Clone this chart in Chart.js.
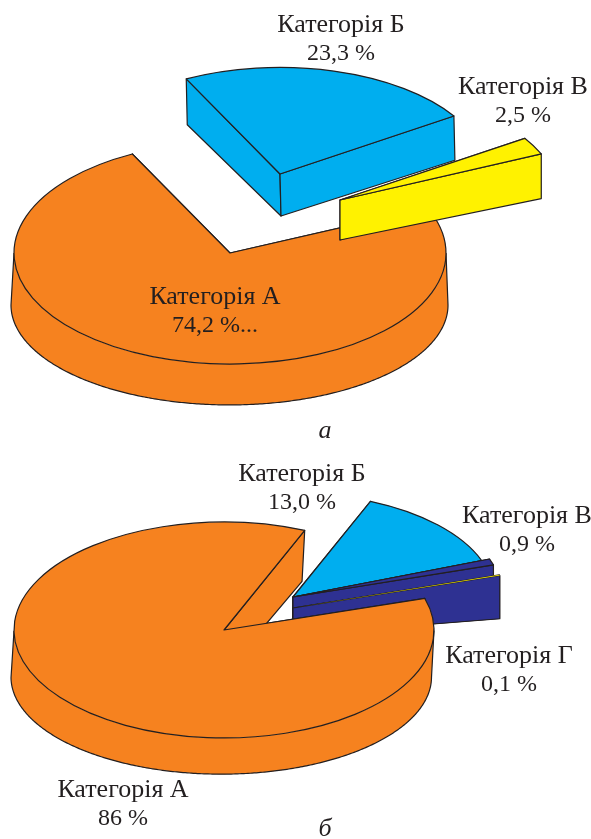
<!DOCTYPE html>
<html lang="uk">
<head>
<meta charset="utf-8">
<title>Категорії</title>
<script src="https://cdn.jsdelivr.net/npm/chart.js@4/dist/chart.umd.min.js"></script>
<style>
  html, body { margin: 0; padding: 0; background: #fff; }
  #page { position: relative; width: 591px; height: 839px; overflow: hidden; }
  canvas { position: absolute; left: 0; }
  .lbl {
    position: absolute; transform: translateX(-50%); text-align: center; white-space: pre;
    font: 24px/28px "Liberation Serif", serif; color: #231f20;
  }
  .lbl .name { font-size: 26px; }
  .cap { font-style: italic; font-size: 26px; }
</style>
</head>
<body>
<div id="page">
  <canvas id="pieA" width="591" height="420" style="top:0"></canvas>
  <canvas id="pieB" width="591" height="419" style="top:420px"></canvas>
</div>
<script>
// верхня діаграма
const categoriesA = ['Категорія А', 'Категорія Б', 'Категорія В'];
const valuesA = [74.2, 23.3, 2.5];
const valueTextA = ['74,2 %...', '23,3 %', '2,5 %'];

// нижня діаграма
const categoriesB = ['Категорія А', 'Категорія Б', 'Категорія В', 'Категорія Г'];
const valuesB = [86, 13.0, 0.9, 0.1];
const valueTextB = ['86 %', '13,0 %', '0,9 %', '0,1 %'];

const ORANGE = '#f6821f', BLUE = '#00aeef', YELLOW = '#fff200', NAVY = '#2e3192', INK = '#231f20';
const SQUASH = 0.514;

// Fake 3D: the arcs come from the pie controller, this plugin flattens them and adds the walls
const pie3d = {
  id: 'pie3d',
  beforeDatasetDraw(chart) {
    const cfg = chart.options.plugins.pie3d;
    const ctx = chart.ctx;
    const arcs = chart.getDatasetMeta(0).data;
    ctx.lineWidth = 1.2;
    ctx.strokeStyle = INK;
    ctx.lineJoin = 'round';
    cfg.order.forEach(i => drawSlice(ctx, arcs[i], cfg.slices[i], cfg.walls[i]));
    return false; // default flat drawing is replaced
  }
};

function drawSlice(ctx, arc, s, wall) {
  const cx = arc.x + s.shift[0], cy = arc.y + s.shift[1];
  const r = arc.outerRadius * s.scale;
  const a0 = arc.startAngle, a1 = arc.endAngle;

  const top = a => [cx + r * Math.cos(a), cy + r * Math.sin(a) * SQUASH];
  const bottom = p => {
    const dy = p[1] - cy;
    const drop = wall.drop - (dy > 0 ? wall.front * dy : wall.back * dy);
    return [p[0] + wall.dx + wall.spread * (p[0] - cx) / r, p[1] + drop];
  };

  // rim wall, only the part that faces the viewer
  const rim = [];
  for (let a = a0; a < a1; a += 0.01) {
    if (Math.sin(a) >= 0) rim.push(top(a));
  }
  ctx.fillStyle = wall.color;
  if (rim.length > 1) {
    const low = rim.map(bottom);
    ctx.beginPath();
    rim.forEach((p, k) => k ? ctx.lineTo(p[0], p[1]) : ctx.moveTo(p[0], p[1]));
    low.slice().reverse().forEach(p => ctx.lineTo(p[0], p[1]));
    ctx.closePath();
    ctx.fill();
    ctx.beginPath();
    ctx.moveTo(rim[0][0], rim[0][1]);
    low.forEach(p => ctx.lineTo(p[0], p[1]));
    ctx.lineTo(rim[rim.length - 1][0], rim[rim.length - 1][1]);
    ctx.stroke();
  }

  // radial walls
  [a0, a1].forEach(a => {
    const p = top(a), q = bottom(p), c = [cx, cy], d = bottom(c);
    ctx.beginPath();
    ctx.moveTo(c[0], c[1]);
    ctx.lineTo(p[0], p[1]);
    ctx.lineTo(q[0], q[1]);
    ctx.lineTo(d[0], d[1]);
    ctx.closePath();
    ctx.fill();
    ctx.stroke();
  });

  // top face, scaled so the stroke below stays even
  ctx.save();
  ctx.translate(cx, cy);
  ctx.scale(s.scale, s.scale * SQUASH);
  ctx.translate(-arc.x, -arc.y);
  arc.draw(ctx);
  ctx.beginPath();
  ctx.moveTo(arc.x, arc.y);
  ctx.arc(arc.x, arc.y, arc.outerRadius, a0, a1);
  ctx.closePath();
  ctx.restore();
  // a very thin wedge would vanish under its own outline
  if (s.outline !== false) ctx.stroke();
}

function makePie(id, values, labels, colors, radius, rotation, padding, plug) {
  return new Chart(document.getElementById(id), {
    type: 'pie',
    data: {
      labels: labels,
      datasets: [{ data: values, backgroundColor: colors, borderWidth: 0, radius: radius }]
    },
    options: {
      responsive: false,
      animation: false,
      rotation: rotation,
      layout: { padding: padding },
      plugins: { legend: { display: false }, tooltip: { enabled: false }, pie3d: plug }
    },
    plugins: [pie3d]
  });
}

makePie('pieA', valuesA, categoriesA, [ORANGE, BLUE, YELLOW], 216, 66,
  { left: 0, right: 131, top: 86, bottom: 0 }, {
    order: [0, 1, 2],
    slices: [
      { shift: [0, 0], scale: 1 },
      { shift: [50, -79], scale: 0.96 },
      { shift: [110, -53], scale: 1.02 }
    ],
    walls: [
      { color: ORANGE, dx: -0.5, spread: 2.5, drop: 52, front: 0.1, back: 0 },
      { color: BLUE, dx: 1, spread: 0, drop: 42, front: 0, back: 0.04 },
      { color: YELLOW, dx: 0, spread: 0, drop: 40, front: 0, back: 0.1 }
    ]
  });

makePie('pieB', valuesB, categoriesB, [ORANGE, BLUE, NAVY, YELLOW], 210, 73,
  { left: 0, right: 143, top: 1, bottom: 0 }, {
    order: [1, 2, 3, 0],
    slices: [
      { shift: [0, 0], scale: 1 },
      { shift: [69, -33], scale: 0.96 },
      { shift: [69, -33], scale: 1.0 },
      { shift: [69, -22], scale: 1.03, outline: false }
    ],
    walls: [
      { color: ORANGE, dx: -2.75, spread: 0.25, drop: 47, front: 0.1, back: 0.04 },
      { color: NAVY, dx: 0, spread: 0, drop: 40, front: 0, back: 0 },
      { color: NAVY, dx: 0, spread: 0, drop: 40, front: 0, back: 0 },
      { color: NAVY, dx: 0, spread: 0, drop: 27, front: 0, back: 0.5 }
    ]
  });

// підписи
const page = document.getElementById('page');
function addLabel(name, value, x, y) {
  const el = document.createElement('div');
  el.className = 'lbl';
  const nameEl = document.createElement('span');
  nameEl.className = 'name';
  nameEl.textContent = name;
  el.append(nameEl, '\n' + value);
  el.style.left = x + 'px';
  el.style.top = y + 'px';
  page.appendChild(el);
}
function addCaption(text, x, y) {
  const el = document.createElement('div');
  el.className = 'lbl cap';
  el.textContent = text;
  el.style.left = x + 'px';
  el.style.top = y + 'px';
  page.appendChild(el);
}
[[215, 282], [341, 10], [523, 72]].forEach((p, i) =>
  addLabel(categoriesA[i], valueTextA[i], p[0], p[1]));
[[123, 775], [302, 459], [527, 501], [509, 641]].forEach((p, i) =>
  addLabel(categoriesB[i], valueTextB[i], p[0], p[1]));
addCaption('а', 325, 416);
addCaption('б', 325, 814);
</script>
</body>
</html>
